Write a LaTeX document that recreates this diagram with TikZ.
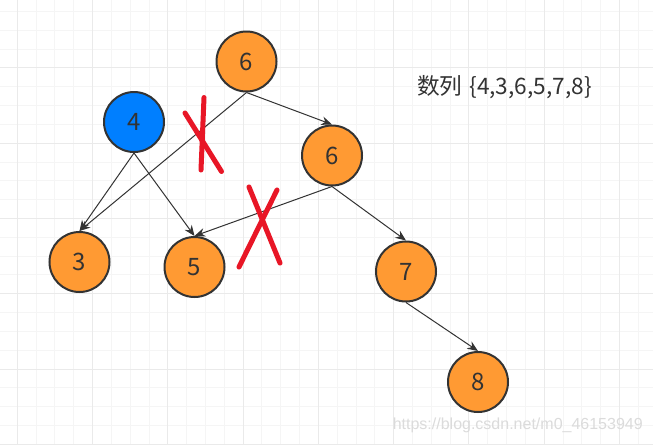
\documentclass[tikz,border=0pt]{standalone}
\usepackage{fontspec}
\setmainfont{Noto Sans CJK SC}
\newfontfamily\urlfont{Liberation Sans}
\usetikzlibrary{arrows.meta}

\definecolor{nodeorange}{RGB}{255,154,51}
\definecolor{nodeblue}{RGB}{0,127,255}
\definecolor{edgegray}{RGB}{51,51,51}
\definecolor{crossred}{RGB}{232,22,38}
\definecolor{gridminor}{RGB}{245,245,245}
\definecolor{gridmajor}{RGB}{234,234,234}

\tikzset{
	num/.style={shape=circle,draw=edgegray,line width=1.5pt,minimum size=45pt,inner sep=0pt,fill=nodeorange,font=\fontsize{18pt}{18pt}\selectfont,text=edgegray},
	arr/.style={-{Stealth[length=8pt,width=6.5pt]},line width=0.75pt,draw=edgegray},
	cross/.style={line width=3.75pt,draw=crossred,line cap=round}
}

\begin{document}
\begin{tikzpicture}[x=0.75pt,y=-0.75pt]
	
	\useasboundingbox (0,0) rectangle (653,444);
	\fill[white] (0,0) rectangle (653,444);
	
	% grid
	\foreach \k in {0,...,33} {
		\pgfmathsetmacro{\gx}{17.3+18.82*\k}
		\draw[gridminor,line width=0.75pt] (\gx,0) -- (\gx,444);
	}
	\foreach \k in {0,...,23} {
		\pgfmathsetmacro{\gy}{11.5+18.82*\k}
		\draw[gridminor,line width=0.75pt] (0,\gy) -- (653,\gy);
	}
	\foreach \k in {0,4,...,32} {
		\pgfmathsetmacro{\gx}{17.3+18.82*\k}
		\draw[gridmajor,line width=0.75pt] (\gx,0) -- (\gx,444);
	}
	\foreach \k in {3,7,...,23} {
		\pgfmathsetmacro{\gy}{11.5+18.82*\k}
		\draw[gridmajor,line width=0.75pt] (0,\gy) -- (653,\gy);
	}
	
	\node[num] (n6a) at (246.5, 61.5)  {6};
	\node[num,fill=nodeblue] (n4) at (134, 122) {4};
	\node[num] (n6b) at (332, 155.5)   {6};
	\node[num] (n3) at (79.5, 262)     {3};
	\node[num] (n5) at (194.5, 267)    {5};
	\node[num] (n7) at (406, 271.5)    {7};
	\node[num] (n8) at (478, 382)      {8};
	
	\draw[arr] (n6a.south) -- (n3.north);
	\draw[arr] (n6a.south) -- (n6b.north);
	\draw[arr] (n4.south) -- (n3.north);
	\draw[arr] (n4.south) -- (n5.north);
	\draw[arr] (n6b.south) -- (n5.north);
	\draw[arr] (n6b.south) -- (n7.north);
	\draw[arr] (n7.south) -- (n8.north);
	
	% crossed out
	\draw[cross] (185,113) -- (221.5,171.5);
	\draw[cross] (204,97.5) -- (201,170);
	\draw[cross] (249,187) -- (280,263);
	\draw[cross] (277,190) -- (239,267);
	
	\node[anchor=west,inner sep=0pt,text=edgegray,font=\fontsize{17pt}{17pt}\selectfont] (seq) at (417,87) {数列\hspace{0.3em}\{4,3,6,5,7,8\}};
	
	\node[anchor=east,inner sep=0pt,text=black!14,font=\urlfont\fontsize{12pt}{12pt}\selectfont] (url) at (643,425) {https://blog.csdn.net/m0\_46153949};
	
\end{tikzpicture}
\end{document}
